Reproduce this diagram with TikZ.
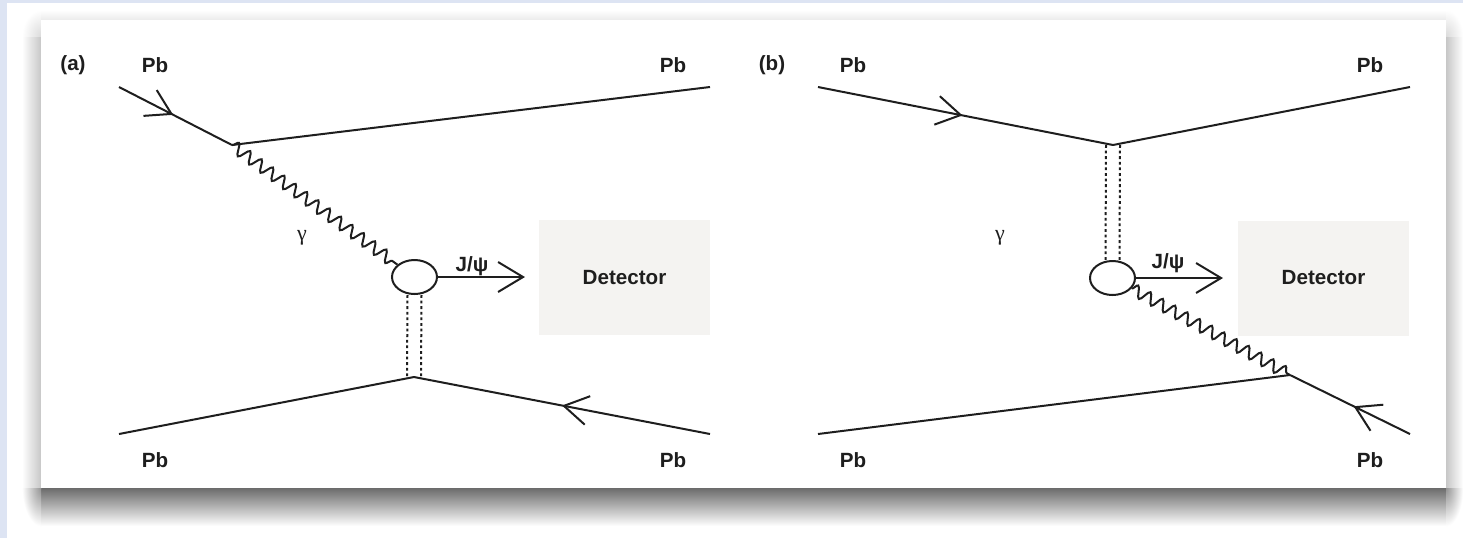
\documentclass[tikz,border=0pt]{standalone}
\usepackage{fontspec}
\setmainfont{Liberation Sans}
\newfontfamily\greekserif{Liberation Serif}
\usetikzlibrary{arrows.meta,decorations.pathmorphing,decorations.markings,shapes.geometric}

\definecolor{pageblue}{RGB}{221,228,243}
\definecolor{inkgray}{RGB}{30,30,30}
\definecolor{detfill}{RGB}{244,243,241}

\tikzset{
  ink/.style={draw=inkgray, line width=1pt},
  barb/.tip={Straight Barb[length=12pt,width=14.5pt]},
  fermion/.style={ink, postaction={decorate},
    decoration={markings, mark=at position #1 with {\arrow{barb}}}},
  photon/.style={ink, decorate,
    decoration={snake, segment length=7pt, amplitude=2.9pt}},
  pomeron/.style={draw=inkgray, line width=1pt, dash pattern=on 1.4pt off 1.4pt},
  blob/.style={ellipse, draw=inkgray, line width=1pt, fill=white,
    minimum width=22.5pt, minimum height=17pt, inner sep=0pt},
  detbox/.style={fill=detfill, minimum width=85.5pt, minimum height=57.5pt,
    inner sep=0pt, font=\bfseries\fontsize{10.3}{12}\selectfont, text=inkgray},
  lbl/.style={font=\bfseries\fontsize{10.3}{12}\selectfont, text=inkgray, inner sep=0pt},
  glbl/.style={font=\greekserif\fontsize{11}{12}\selectfont, text=inkgray, inner sep=0pt},
  corner/.style={inner color=black!42, outer color=white}
}

\begin{document}
\begin{tikzpicture}[x=0.5pt,y=-0.5pt]
  \useasboundingbox (0,0) rectangle (1463,538);
  % page background and frame strips
  \fill[white] (0,0) rectangle (1463,538);
  \fill[pageblue] (0,0) rectangle (7,538);
  \fill[pageblue] (0,0) rectangle (1463,3);

  % soft drop shadow round the card, heaviest below it
  \shade[top color=black!58, middle color=black!26, bottom color=white]
    (41,488) rectangle (1446,526);
  \shade[left color=white, right color=black!22] (22,36) rectangle (41,488);
  \shade[left color=black!22, right color=white] (1446,36) rectangle (1463,488);
  \shade[top color=white, bottom color=black!8] (41,10) rectangle (1446,20);
  \begin{scope}
    \clip (22,488) rectangle (41,526);
    \shade[corner] (22,450) rectangle (60,526);
  \end{scope}
  \begin{scope}
    \clip (1446,488) rectangle (1463,526);
    \shade[corner] (1429,450) rectangle (1463,526);
  \end{scope}
  \begin{scope}
    \clip (22,10) rectangle (41,36);
    \shade[inner color=black!14, outer color=white] (22,10) rectangle (60,62);
  \end{scope}
  \begin{scope}
    \clip (1446,10) rectangle (1463,36);
    \shade[inner color=black!14, outer color=white] (1429,10) rectangle (1463,62);
  \end{scope}
  % the card
  \fill[white] (41,20) rectangle (1446,488);

  % ---------------- panel (a) ----------------
  \node[lbl] (tagA) at (73,65) {(a)};
  \node[lbl] (pbA1) at (155,65) {Pb};
  \node[lbl] (pbA2) at (673,65) {Pb};
  \node[lbl] (pbA3) at (155,460) {Pb};
  \node[lbl] (pbA4) at (673,460) {Pb};

  \coordinate (inA)  at (119,87);
  \coordinate (vA)   at (232,145);
  \coordinate (outA) at (710,87);
  \coordinate (inA2) at (710,434);
  \coordinate (vA2)  at (414,377);
  \coordinate (outA2) at (119,434);
  \coordinate (tipA) at (525,277);

  \node[blob] (blobA) at (414.5,277) {};
  \node[detbox] (detA) at (624.5,277.5) {Detector};

  \draw[fermion=0.48] (inA) -- (vA);
  \draw[ink] (vA) -- (outA);
  \draw[fermion=0.5] (inA2) -- (vA2);
  \draw[ink] (vA2) -- (outA2);
  \draw[photon] (vA) -- (blobA);
  \draw[pomeron] ([xshift=-3.5pt]blobA.south) -- ([xshift=-3.5pt]vA2);
  \draw[pomeron] ([xshift=3.5pt]blobA.south) -- ([xshift=3.5pt]vA2);
  \draw[ink, -{Straight Barb[length=12.5pt,width=15pt]}] (blobA.east) -- (tipA);
  \node[lbl] (jpsiA) at (472,266) {J/ψ};
  \node[glbl] (gamA) at (302,238) {γ};

  % ---------------- panel (b) ----------------
  \node[lbl] (tagB) at (772,65) {(b)};
  \node[lbl] (pbB1) at (853,65) {Pb};
  \node[lbl] (pbB2) at (1370,65) {Pb};
  \node[lbl] (pbB3) at (853,460) {Pb};
  \node[lbl] (pbB4) at (1370,460) {Pb};

  \coordinate (inB)  at (818,87);
  \coordinate (vB)   at (1113,145);
  \coordinate (outB) at (1410,87);
  \coordinate (inB2) at (1410,434);
  \coordinate (vB2)  at (1290,375);
  \coordinate (outB2) at (818,434);
  \coordinate (tipB) at (1223,278);

  \node[blob] (blobB) at (1112.5,278) {};
  \node[detbox] (detB) at (1323.5,278) {Detector};

  \draw[fermion=0.49] (inB) -- (vB);
  \draw[ink] (vB) -- (outB);
  \draw[fermion=0.47] (inB2) -- (vB2);
  \draw[ink] (vB2) -- (outB2);
  \draw[photon] (blobB) -- (vB2);
  \draw[pomeron] ([xshift=-3.5pt]vB) -- ([xshift=-3.5pt]blobB.north);
  \draw[pomeron] ([xshift=3.5pt]vB) -- ([xshift=3.5pt]blobB.north);
  \draw[ink, -{Straight Barb[length=12.5pt,width=15pt]}] (blobB.east) -- (tipB);
  \node[lbl] (jpsiB) at (1168,263) {J/ψ};
  \node[glbl] (gamB) at (1000,238) {γ};
\end{tikzpicture}
\end{document}
